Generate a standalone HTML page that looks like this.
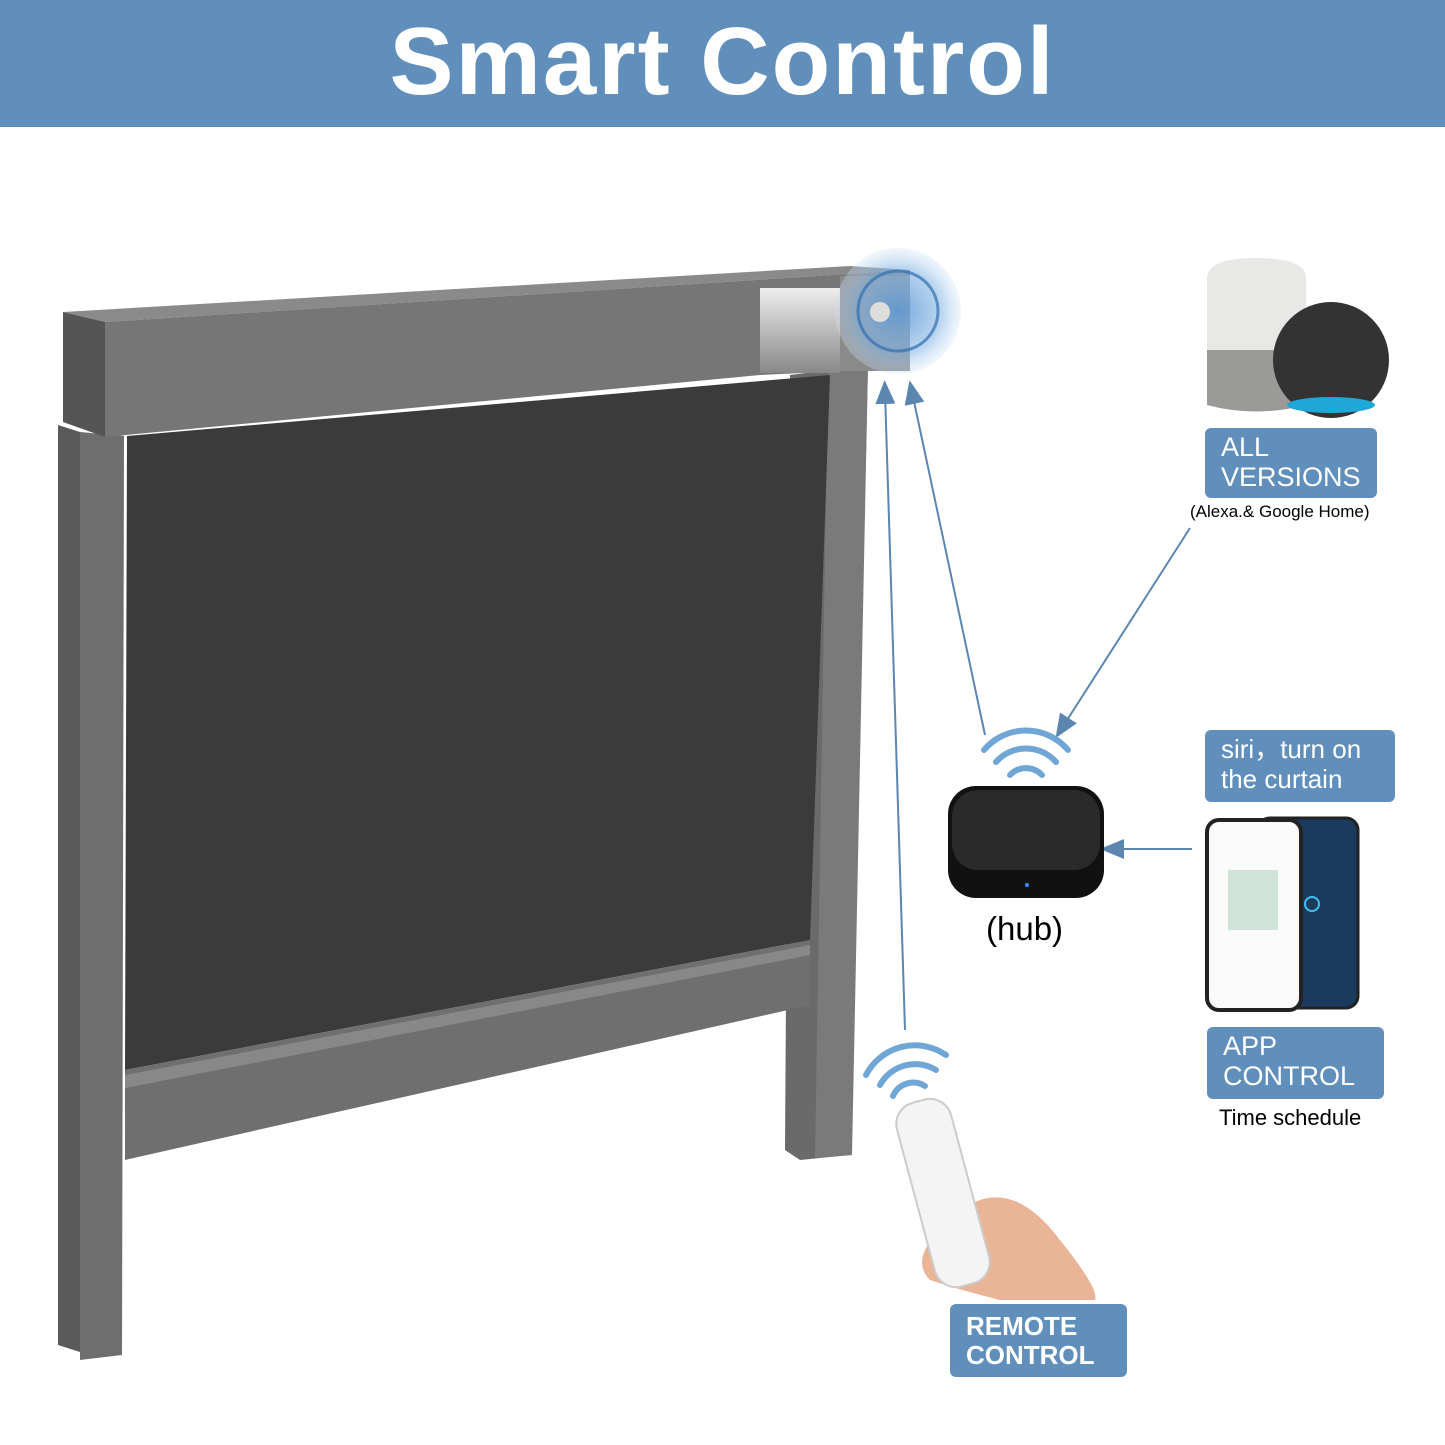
<!DOCTYPE html>
<html><head><meta charset="utf-8"><style>
html,body{margin:0;padding:0;background:#fff;}
body{width:1445px;height:1445px;position:relative;overflow:hidden;font-family:"Liberation Sans",Arial,sans-serif;}
.hdr{position:absolute;left:0;top:0;width:1445px;height:127px;background:#5f8fba;color:#fff;font-weight:bold;font-size:96px;text-align:center;line-height:124px;letter-spacing:2px;}
.lbl{position:absolute;background:#5f8fba;color:#fff;border-radius:6px;font-size:27px;line-height:30px;padding:4px 16px;box-sizing:border-box;}
.t{position:absolute;color:#000;}
</style></head><body>
<div class="hdr">Smart Control</div>
<svg width="1445" height="1445" style="position:absolute;left:0;top:0">
<defs>
<marker id="ah" markerWidth="12" markerHeight="12" refX="6" refY="6" orient="auto"><path d="M0,1 L12,6 L0,11 Z" fill="#5a86b0"/></marker>
<radialGradient id="glow" cx="50%" cy="50%" r="50%"><stop offset="0" stop-color="#5f9ad6" stop-opacity="0.9"/><stop offset="0.7" stop-color="#8fbbe6" stop-opacity="0.6"/><stop offset="1" stop-color="#cfe2f5" stop-opacity="0.3"/></radialGradient>
<linearGradient id="cyl" x1="0" y1="0" x2="0" y2="1"><stop offset="0" stop-color="#eee"/><stop offset="0.5" stop-color="#bbb"/><stop offset="1" stop-color="#888"/></linearGradient>
</defs>
<!-- left post -->
<polygon points="58,425 80,432 80,1352 58,1345" fill="#5a5a5a"/>
<polygon points="80,432 124,436 122,1355 80,1360" fill="#6e6e6e"/>
<!-- right post -->
<polygon points="790,375 868,365 850,1155 800,1160 785,1150" fill="#6a6a6a"/>
<polygon points="828,370 868,365 852,1155 815,1158" fill="#7a7a7a"/>
<!-- fabric -->
<polygon points="127,436 830,375 810,940 125,1070" fill="#3b3b3b"/>
<!-- bottom bar -->
<polygon points="125,1070 810,940 810,1005 125,1160" fill="#6f6f6f"/>
<polygon points="125,1075 810,945 810,955 125,1088" fill="#888"/>
<!-- cassette -->
<polygon points="63,312 850,266 910,270 105,322" fill="#8a8a8a"/>
<polygon points="63,312 105,322 105,437 63,422" fill="#555"/>
<polygon points="105,322 910,270 910,368 760,375 105,437" fill="#767676"/>
<rect x="760" y="288" width="80" height="85" fill="url(#cyl)"/>
<rect x="840" y="276" width="70" height="95" fill="#8a8a8a"/>
<circle cx="898" cy="311" r="63" fill="url(#glow)"/>
<circle cx="898" cy="311" r="40" fill="none" stroke="#2f6fb0" stroke-width="3" opacity="0.7"/>
<circle cx="880" cy="312" r="10" fill="#ddd"/>
<!-- arrows -->
<g stroke="#5a86b0" stroke-width="2" fill="none">
<line x1="905" y1="1030" x2="885" y2="392" marker-end="url(#ah)"/>
<line x1="985" y1="735" x2="912" y2="392" marker-end="url(#ah)"/>
<line x1="1190" y1="528" x2="1062" y2="728" marker-end="url(#ah)"/>
<line x1="1192" y1="849" x2="1112" y2="849" marker-end="url(#ah)"/>
</g>
<!-- wifi waves hub -->
<g stroke="#6fa6d6" stroke-width="6" fill="none" stroke-linecap="round">
<path d="M984,750 A55,55 0 0 1 1068,750"/>
<path d="M996,762 A40,40 0 0 1 1056,762"/>
<path d="M1010,775 A22,22 0 0 1 1042,775"/>
<path d="M866,1075 A55,55 0 0 1 946,1055"/>
<path d="M880,1085 A40,40 0 0 1 936,1070"/>
<path d="M893,1096 A22,22 0 0 1 925,1086"/>
</g>
<!-- hub -->
<rect x="948" y="786" width="156" height="112" rx="28" fill="#111"/>
<rect x="952" y="790" width="148" height="80" rx="26" fill="#2a2a2a"/>
<circle cx="1027" cy="885" r="2" fill="#3a8fff"/>
<!-- speakers -->
<path d="M1207,278 Q1207,258 1256,258 Q1306,258 1306,278 L1306,405 Q1256,418 1207,405 Z" fill="#e8e8e6"/>
<path d="M1207,350 L1306,350 L1306,405 Q1256,418 1207,405 Z" fill="#9a9a98"/>
<circle cx="1331" cy="360" r="58" fill="#333"/>
<ellipse cx="1331" cy="405" rx="44" ry="8" fill="#1fa7d8"/>
<!-- phone -->
<rect x="1258" y="818" width="100" height="190" rx="12" fill="#1a3b5c" stroke="#222" stroke-width="3"/>
<rect x="1207" y="820" width="94" height="190" rx="12" fill="#fafafa" stroke="#222" stroke-width="4"/>
<rect x="1228" y="870" width="50" height="60" fill="#cfe3d8"/>
<circle cx="1312" cy="904" r="7" fill="none" stroke="#3fc4ef" stroke-width="2"/>
<!-- remote & hand -->
<path d="M940,1230 Q1000,1160 1060,1240 Q1100,1290 1095,1300 L1000,1300 Q960,1290 930,1280 Q910,1260 940,1230 Z" fill="#e9b596"/>
<rect x="915" y="1098" width="56" height="190" rx="22" fill="#f4f4f4" stroke="#ccc" stroke-width="2" transform="rotate(-15 943 1193)"/>
</svg>
<div class="lbl" style="left:1205px;top:428px;width:172px;height:70px;">ALL<br>VERSIONS</div>
<div class="t" style="left:1190px;top:502px;font-size:17px;">(Alexa.&amp; Google Home)</div>
<div class="lbl" style="left:1205px;top:730px;width:190px;height:72px;font-size:26px;">siri，turn on<br>the curtain</div>
<div class="t" style="left:986px;top:910px;font-size:33px;">(hub)</div>
<div class="lbl" style="left:1207px;top:1027px;width:177px;height:72px;">APP<br>CONTROL</div>
<div class="t" style="left:1219px;top:1105px;font-size:22px;">Time schedule</div>
<div class="lbl" style="left:950px;top:1304px;width:177px;height:73px;font-weight:bold;font-size:26px;line-height:29px;padding-top:8px;">REMOTE<br>CONTROL</div>
</body></html>
